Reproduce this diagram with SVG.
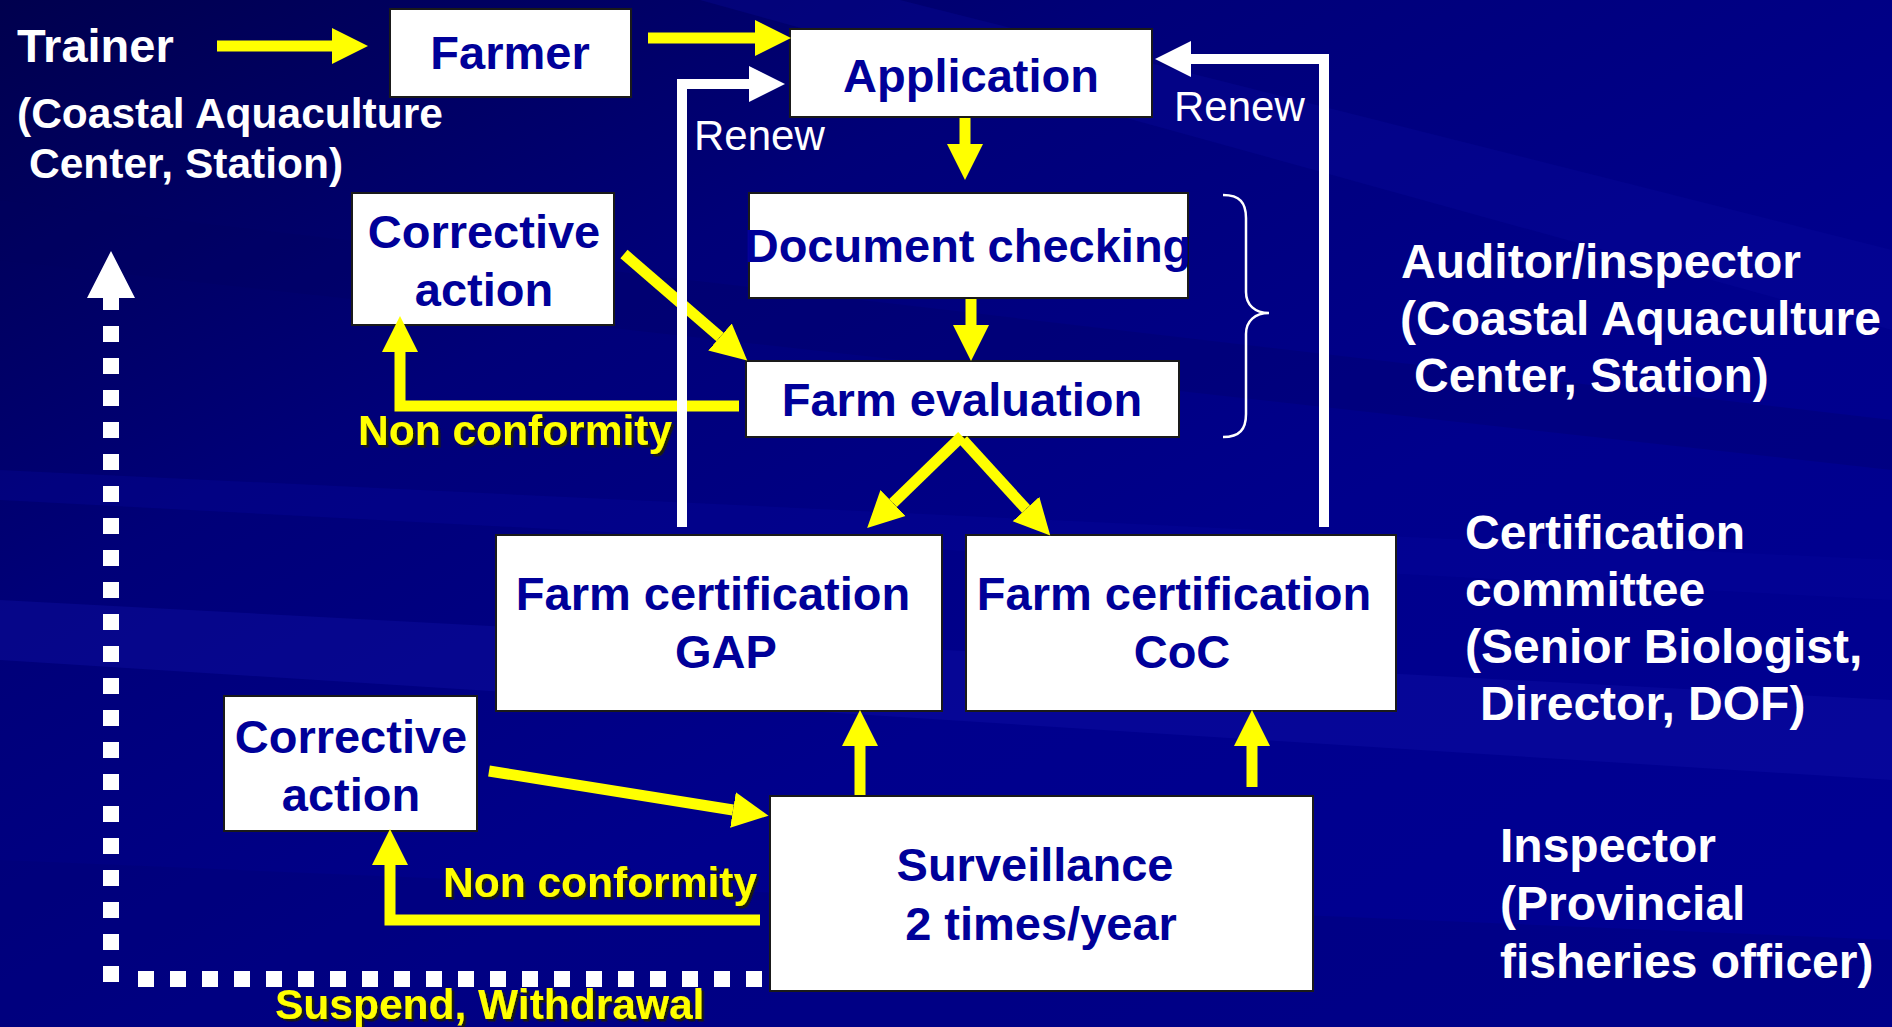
<svg xmlns="http://www.w3.org/2000/svg" width="1892" height="1027" viewBox="0 0 1892 1027">
<defs>
  <linearGradient id="bg" x1="0" y1="0" x2="1" y2="1">
    <stop offset="0" stop-color="#00004e"/>
    <stop offset="0.3" stop-color="#000078"/>
    <stop offset="0.6" stop-color="#00008c"/>
    <stop offset="1" stop-color="#000094"/>
  </linearGradient>
  <marker id="hy" markerUnits="userSpaceOnUse" markerWidth="40" markerHeight="40" viewBox="0 -20 40 40" refX="0" refY="0" orient="auto">
    <path d="M0,-18 L36,0 L0,18 Z" fill="#ffff00"/>
  </marker>
  <marker id="hw" markerUnits="userSpaceOnUse" markerWidth="40" markerHeight="40" viewBox="0 -20 40 40" refX="0" refY="0" orient="auto">
    <path d="M0,-18 L36,0 L0,18 Z" fill="#ffffff"/>
  </marker>
  <filter id="sh" x="-5%" y="-20%" width="110%" height="140%">
    <feDropShadow dx="2.5" dy="2.5" stdDeviation="0.3" flood-color="#1a1a00" flood-opacity="0.9"/>
  </filter>
  <style>
    .box { fill: #ffffff; stroke: #1a1a1a; stroke-width: 2; }
    .nt { font-family: "Liberation Sans", Arial, sans-serif; font-weight: bold; font-size: 47px; fill: #000099; text-anchor: middle; }
    .lt { font-family: "Liberation Sans", Arial, sans-serif; font-weight: bold; font-size: 42.5px; fill: #ffffff; }
    .rt { font-family: "Liberation Sans", Arial, sans-serif; font-weight: bold; font-size: 48px; fill: #ffffff; }
    .yt { font-family: "Liberation Sans", Arial, sans-serif; font-weight: bold; font-size: 42.5px; fill: #ffff00; filter: url(#sh); }
    .rn { font-family: "Liberation Sans", Arial, sans-serif; font-size: 42px; fill: #ffffff; }
    .ya { fill: none; stroke: #ffff00; stroke-width: 11; stroke-linejoin: miter; marker-end: url(#hy); }
    .wa { fill: none; stroke: #ffffff; stroke-width: 10; stroke-linejoin: miter; marker-end: url(#hw); }
    .dot { fill: none; stroke: #ffffff; stroke-width: 16; stroke-dasharray: 16 16; }
  </style>
</defs>

<!-- background -->
<rect x="0" y="0" width="1892" height="1027" fill="url(#bg)"/>
<g id="streaks" opacity="1">
  <polygon points="0,600 1892,700 1892,780 0,660" fill="#1010a8" opacity="0.35"/>
  <polygon points="0,470 1892,560 1892,600 0,500" fill="#0808a0" opacity="0.3"/>
  <polygon points="0,200 1892,420 1892,470 0,260" fill="#000060" opacity="0.25"/>
  <polygon points="0,860 1892,940 1892,1027 0,1027" fill="#000070" opacity="0.3"/>
  <polygon points="900,0 1892,250 1892,330 700,0" fill="#0a0aa0" opacity="0.3"/>
</g>

<!-- side labels -->
<g id="label-trainer">
  <text class="lt" x="17" y="62" style="font-size:47px">Trainer</text>
  <text class="lt" x="17" y="128">(Coastal Aquaculture</text>
  <text class="lt" x="29" y="178">Center, Station)</text>
</g>
<g id="label-auditor">
  <text class="rt" x="1401" y="278">Auditor/inspector</text>
  <text class="rt" x="1400" y="335">(Coastal Aquaculture</text>
  <text class="rt" x="1414" y="392">Center, Station)</text>
</g>
<g id="label-committee">
  <text class="rt" x="1465" y="549">Certification</text>
  <text class="rt" x="1465" y="606">committee</text>
  <text class="rt" x="1465" y="663">(Senior Biologist,</text>
  <text class="rt" x="1480" y="720">Director, DOF)</text>
</g>
<g id="label-inspector">
  <text class="rt" x="1500" y="862">Inspector</text>
  <text class="rt" x="1500" y="920">(Provincial</text>
  <text class="rt" x="1500" y="978">fisheries officer)</text>
</g>

<!-- nodes -->
<g id="node-farmer">
  <rect class="box" x="390" y="9" width="241" height="88"/>
  <text class="nt" x="510" y="69">Farmer</text>
</g>
<g id="node-application">
  <rect class="box" x="790" y="29" width="362" height="88"/>
  <text class="nt" x="971" y="92">Application</text>
</g>
<g id="node-document">
  <rect class="box" x="749" y="193" width="439" height="105"/>
  <text class="nt" x="968" y="262">Document checking</text>
</g>
<g id="node-evaluation">
  <rect class="box" x="746" y="361" width="433" height="76"/>
  <text class="nt" x="962" y="416">Farm evaluation</text>
</g>
<g id="node-corrective-1">
  <rect class="box" x="352" y="193" width="262" height="132"/>
  <text class="nt" x="484" y="248">Corrective</text>
  <text class="nt" x="484" y="306">action</text>
</g>
<g id="node-gap">
  <rect class="box" x="496" y="535" width="446" height="176"/>
  <text class="nt" x="713" y="610">Farm certification</text>
  <text class="nt" x="726" y="668">GAP</text>
</g>
<g id="node-coc">
  <rect class="box" x="966" y="535" width="430" height="176"/>
  <text class="nt" x="1174" y="610">Farm certification</text>
  <text class="nt" x="1182" y="668">CoC</text>
</g>
<g id="node-corrective-2">
  <rect class="box" x="224" y="696" width="253" height="135"/>
  <text class="nt" x="351" y="753">Corrective</text>
  <text class="nt" x="351" y="811">action</text>
</g>
<g id="node-surveillance">
  <rect class="box" x="770" y="796" width="543" height="195"/>
  <text class="nt" x="1035" y="881">Surveillance</text>
  <text class="nt" x="1041" y="940">2 times/year</text>
</g>

<!-- connectors -->
<g id="connectors">
  <path class="ya" d="M217,46 H332"/>
  <path class="ya" d="M648,38 H755"/>
  <path class="ya" d="M965,118 V144"/>
  <path class="ya" d="M971,299 V325"/>
  <path class="ya" d="M624,254 L720,337"/>
  <path class="ya" d="M739,406 H400 V352"/>
  <path class="ya" d="M962,436 L893,503"/>
  <path class="ya" d="M963,440 L1026,509"/>
  <path class="ya" d="M860,795 V746"/>
  <path class="ya" d="M1252,787 V746"/>
  <path class="ya" d="M489,771 L733,810"/>
  <path class="ya" d="M760,920 H390 V865"/>

  <path class="wa" d="M682,527 V84 H749"/>
  <path class="wa" d="M1324,527 V59 H1191"/>

  <path class="dot" d="M111,326 V982"/>
  <path class="dot" d="M762,979 H122"/>
  <path d="M111,251 L135,298 L119,298 L119,310 L103,310 L103,298 L87,298 Z" fill="#ffffff"/>

  <path id="brace" d="M1223,195 C1240,195 1246,203 1246,218 V292 C1246,305 1255,313 1269,313 C1255,313 1246,321 1246,334 V414 C1246,429 1240,437 1223,437" fill="none" stroke="#ffffff" stroke-width="2.5"/>

  <text class="yt" x="358" y="445">Non conformity</text>
  <text class="yt" x="443" y="897">Non conformity</text>
  <text class="yt" x="275" y="1019">Suspend, Withdrawal</text>
  <text class="rn" x="694" y="150">Renew</text>
  <text class="rn" x="1174" y="121">Renew</text>
</g>
</svg>
